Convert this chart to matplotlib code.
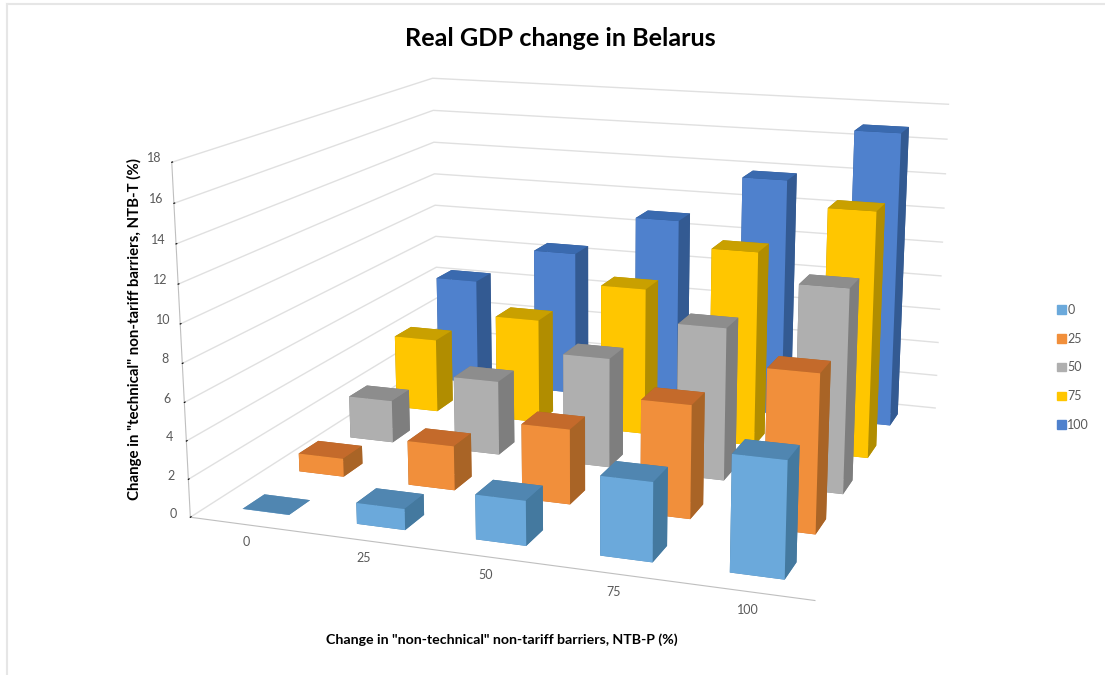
import numpy as np
import matplotlib
matplotlib.use('Agg')
import matplotlib.pyplot as plt
from matplotlib.patches import Patch
from matplotlib.lines import Line2D

plt.rcParams['font.family'] = ['Lato', 'DejaVu Sans']
W, H = 1105, 675

categories = ['0', '25', '50', '75', '100']
series_names = ['0', '25', '50', '75', '100']
s0 = [0.0, 1.1, 2.3, 4.0, 5.8]
s25 = [1.0, 2.4, 4.0, 5.95, 8.2]
s50 = [2.4, 4.15, 6.05, 8.3, 10.95]
s75 = [4.3, 6.05, 8.4, 11.0, 13.7]
s100 = [6.4, 8.6, 11.05, 13.85, 16.9]
values = [s0, s25, s50, s75, s100]
front = ['#6BA9DB', '#F18F3B', '#AFAFAF', '#FFC600', '#4F81CD']
top = ['#5086B1', '#C46A2B', '#8D8D8D', '#C9A000', '#3A6AAF']
side = ['#44799F', '#A96426', '#7E7E7E', '#B18D00', '#335A92']

fig = plt.figure(figsize=(W/100, H/100), dpi=100)
ax = fig.add_axes([0, 0, 1, 1], projection='3d')
ax.set_xlim(0, 5, view_margin=0)
ax.set_ylim(0, 5, view_margin=0)
ax.set_zlim(0, 18, view_margin=0)
ax.view_init(elev=14.194, azim=-70.541)
ax.set_proj_type('persp', focal_length=0.426)
ax.set_box_aspect((1, 0.961, 0.564))

scale, bx, by = 4701.9, 593.4, 377.1
x0, x1 = ax.viewLim.intervalx
y0 = ax.viewLim.intervaly[0]
side_px = scale*(x1-x0)
ax.set_position([(bx+scale*x0)/W, (by+scale*y0)/H, side_px/W, side_px/H])
ax.patch.set_alpha(0)
ax.computed_zorder = False

bar_w, bar_d = 0.41, 0.37
for i in range(5):
    row = 4 - i
    for c in range(5):
        h = max(values[row][c], 0.01)
        ax.bar3d(c+0.5-bar_w/2, row+0.5-bar_d/2, 0, bar_w, bar_d, h, shade=False,
                 color=[top[row], top[row], front[row], side[row], side[row], side[row]],
                 zorder=10+i*5+c)

ax.set_xticks(np.arange(5)+0.54, categories, fontsize=9, color='#595959')
ax.set_yticks([])
ax.set_zticks(np.arange(0, 19, 2))
ax.tick_params(axis='z', labelsize=9, labelcolor='#595959', pad=-1.7)
ax.tick_params(axis='x', pad=-1.5, width=0)
for tick in ax.zaxis.get_major_ticks():
    tick.label1.set_verticalalignment('bottom')
for axis in (ax.xaxis, ax.yaxis, ax.zaxis):
    axis.pane.set_visible(False)
    axis._axinfo['grid']['color'] = '#E0E0E0'
    axis._axinfo['grid']['linewidth'] = 1
    axis.line.set_color('#BFBFBF')
ax.yaxis.line.set_visible(False)
ax.xaxis._axinfo['grid']['linewidth'] = 0
ax.xaxis._axinfo['tick']['inward_factor'] = 0
ax.xaxis._axinfo['tick']['outward_factor'] = 0
ax.zaxis._axinfo['tick']['inward_factor'] = 0
ax.zaxis._axinfo['tick']['outward_factor'] = 0.03
ax.zaxis._axinfo['tick']['color'] = '#999999'
ax.zaxis.set_ticks_position('lower')

fig.text(560/W, 1-38.5/H, 'Real GDP change in Belarus', ha='center', va='center', fontsize=18.2, fontweight='bold', color='black')
fig.text(501.5/W, 1-640/H, 'Change in "non-technical" non-tariff barriers, NTB-P (%)', ha='center', va='center', fontsize=10.2, fontweight='bold')
fig.text(134.5/W, 1-329/H, 'Change in "technical" non-tariff barriers, NTB-T (%)', rotation=90, ha='center', va='center', fontsize=10.8, fontweight='bold')
handles = [Patch(color=c, label=n) for c, n in zip(front, series_names)]
fig.legend(handles=handles, loc='center left', bbox_to_anchor=(1046/W, 1-367.5/H), frameon=False, fontsize=9,
           labelcolor='#595959', handlelength=0.7, handleheight=0.7, handletextpad=0.1, labelspacing=1.35)
fig.add_artist(Line2D([7/W, 7/W], [0, 1-4/H], color='#E6E6E6', lw=1.5))
fig.add_artist(Line2D([7/W, 1], [1-4/H, 1-4/H], color='#E6E6E6', lw=1.5))
fig.savefig('out.png', dpi=100)
